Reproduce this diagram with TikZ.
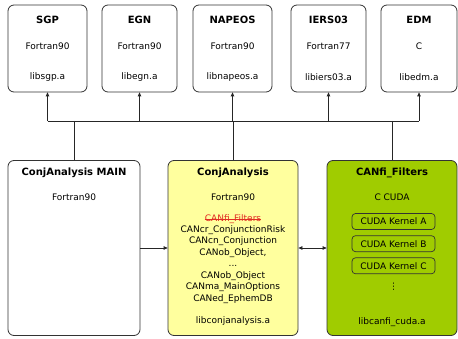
\documentclass[tikz,border=0pt]{standalone}
\usepackage{fontspec}
\setmainfont{DejaVu Sans}
\usetikzlibrary{arrows.meta}
\definecolor{libyellow}{RGB}{255,255,158}
\definecolor{cudagreen}{RGB}{160,204,0}
\definecolor{strikered}{RGB}{225,45,35}
\begin{document}
\begin{tikzpicture}[x=1pt,y=-1pt,
  box/.style={draw=black!80, line width=0.8pt, rounded corners=6pt, fill=white, inner sep=0pt},
  kernel/.style={draw=black!80, line width=0.7pt, rounded corners=3.5pt, fill=cudagreen,
    minimum width=83pt, minimum height=16pt, inner sep=0pt, font=\fontsize{9}{11}\selectfont},
  lbl/.style={inner sep=0pt, font=\fontsize{9}{11}\selectfont},
  ttl/.style={inner sep=0pt, font=\fontsize{10}{12}\selectfont\bfseries},
  link/.style={line width=0.8pt, draw=black!85},
  arr/.style={link, -{Triangle[length=4pt,width=3.6pt]}},
  darr/.style={link, {Triangle[length=4pt,width=3.6pt]}-{Triangle[length=4pt,width=3.6pt]}}
]
\useasboundingbox (0,0) rectangle (458,339);

% library boxes on the top row
\node[box, minimum width=79pt, minimum height=87pt] (sgp)    at (47.5,48.5) {};
\node[box, minimum width=75pt, minimum height=87pt] (egn)    at (139.5,48.5) {};
\node[box, minimum width=79pt, minimum height=87pt] (napeos) at (232.5,48.5) {};
\node[box, minimum width=75pt, minimum height=87pt] (iers)   at (328.5,48.5) {};
\node[box, minimum width=76pt, minimum height=87pt] (edm)    at (419,48.5) {};

\node[ttl] (sgpT) at (47.5,20) {SGP};
\node[lbl] (sgpL) at (47.5,46) {Fortran90};
\node[lbl] (sgpF) at (47.5,77) {libsgp.a};

\node[ttl] (egnT) at (139.5,20) {EGN};
\node[lbl] (egnL) at (139.5,46) {Fortran90};
\node[lbl] (egnF) at (139.5,77) {libegn.a};

\node[ttl] (napT) at (232.5,20) {NAPEOS};
\node[lbl] (napL) at (232.5,46) {Fortran90};
\node[lbl] (napF) at (232.5,77) {libnapeos.a};

\node[ttl] (iersT) at (328.5,20) {IERS03};
\node[lbl] (iersL) at (328.5,46) {Fortran77};
\node[lbl] (iersF) at (328.5,77) {libiers03.a};

\node[ttl] (edmT) at (419,20) {EDM};
\node[lbl] (edmL) at (419,46) {C};
\node[lbl] (edmF) at (419,77) {libedm.a};

% bottom row
\node[box, minimum width=132pt, minimum height=175pt] (main) at (74,248) {};
\node[box, fill=libyellow, minimum width=130pt, minimum height=175pt] (conj) at (233,248) {};
\node[box, fill=cudagreen, minimum width=130pt, minimum height=175pt] (canfi) at (392,248) {};

\node[ttl] (mainT) at (74,173) {ConjAnalysis MAIN};
\node[lbl] (mainL) at (74,197) {Fortran90};

\node[ttl] (conjT) at (233,173) {ConjAnalysis};
\node[lbl] (conjL) at (233,197) {Fortran90};
\node[lbl, text=strikered] (conjX) at (233,219) {CANfi\_Filters};
\draw[strikered, line width=0.7pt] (conjX.west) -- (conjX.east);
\node[lbl, align=center, font=\fontsize{9}{11.5}\selectfont, anchor=north] (conjM) at (233,225)
  {CANcr\_ConjunctionRisk\\
   CANcn\_Conjunction\\
   CANob\_Object,\\
   ...\\
   CANob\_Object\\
   CANma\_MainOptions\\
   CANed\_EphemDB};
\node[lbl] (conjF) at (233,321) {libconjanalysis.a};

\node[ttl] (canT) at (392,173) {CANfi\_Filters};
\node[lbl] (canL) at (392,197) {C CUDA};
\node[kernel] (kA) at (393.5,221.5) {CUDA Kernel A};
\node[kernel] (kB) at (393.5,243.7) {CUDA Kernel B};
\node[kernel] (kC) at (393.5,265.8) {CUDA Kernel C};
\node[lbl] (kD) at (393.5,287) {\symbol{"22EE}};
\node[lbl] (canF) at (392,322) {libcanfi\_cuda.a};

% shared bus linking the libraries
\coordinate (bus) at (0,121);
\draw[link] (sgp.south |- bus) -- (edm.south |- bus);
\foreach \b in {sgp,egn,napeos,iers,edm}
  \draw[arr] (\b.south |- bus) -- (\b.south);
\foreach \b in {main,conj,canfi}
  \draw[link] (\b.north |- bus) -- (\b.north);

% calls between the bottom modules
\draw[arr] (main.east) -- (conj.west);
\draw[darr] (conj.east) -- (canfi.west);
\end{tikzpicture}
\end{document}
